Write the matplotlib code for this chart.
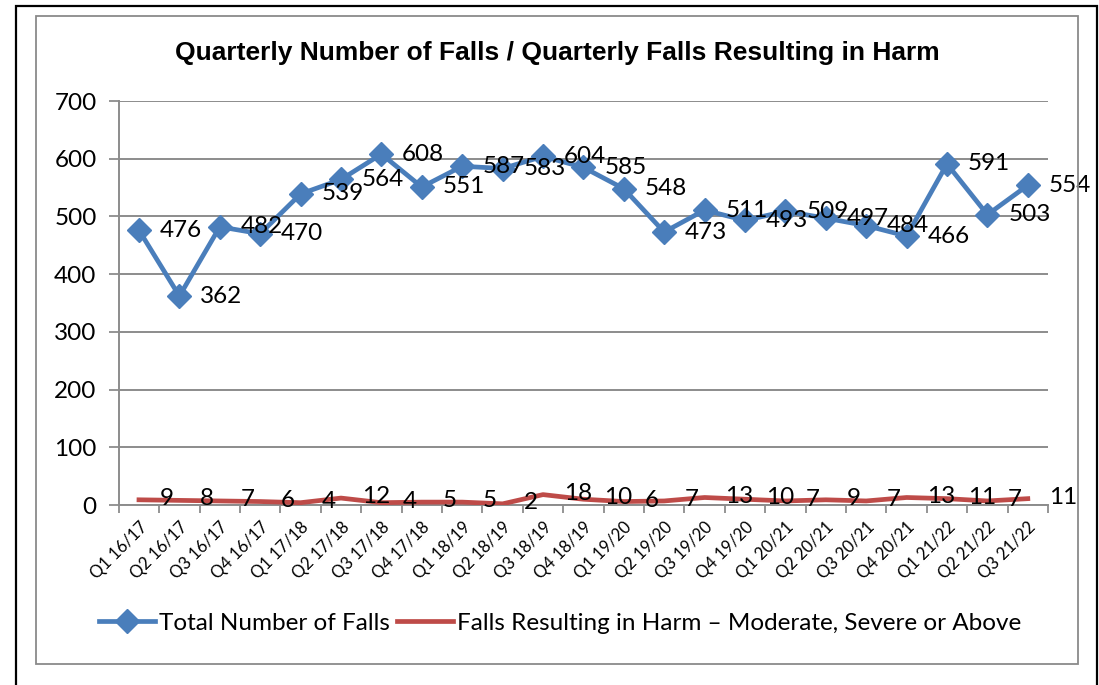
import matplotlib
matplotlib.use('Agg')
import matplotlib.pyplot as plt
from matplotlib.patches import Rectangle
from matplotlib.lines import Line2D

# quarters and values
quarters = ['Q1 16/17', 'Q2 16/17', 'Q3 16/17', 'Q4 16/17',
            'Q1 17/18', 'Q2 17/18', 'Q3 17/18', 'Q4 17/18',
            'Q1 18/19', 'Q2 18/19', 'Q3 18/19', 'Q4 18/19',
            'Q1 19/20', 'Q2 19/20', 'Q3 19/20', 'Q4 19/20',
            'Q1 20/21', 'Q2 20/21', 'Q3 20/21', 'Q4 20/21',
            'Q1 21/22', 'Q2 21/22', 'Q3 21/22']
total_falls = [476, 362, 482, 470, 539, 564, 608, 551, 587, 583, 604, 585,
               548, 473, 511, 493, 509, 497, 484, 466, 591, 503, 554]
harm_falls = [9, 8, 7, 6, 4, 12, 4, 5, 5, 2, 18, 10,
              6, 7, 13, 10, 7, 9, 7, 13, 11, 7, 11]

blue = '#4a7ebb'
red = '#be4b48'
grid = '#8c8c8c'
font = ['Lato', 'DejaVu Sans']

W, H = 1099, 685
fig = plt.figure(figsize=(W / 100, H / 100), dpi=100)

# outer black border and grey chart frame
fig.patches.append(Rectangle((16 / W, -0.05), (1097 - 16) / W, (H - 6) / H + 0.05,
                             transform=fig.transFigure, fill=False,
                             edgecolor='black', linewidth=1.6))
fig.patches.append(Rectangle((36 / W, 1 - 664 / H), (1078 - 36) / W, (664 - 16) / H,
                             transform=fig.transFigure, fill=False,
                             edgecolor='#8a8a8a', linewidth=1.3))

ax = fig.add_axes([118.8 / W, 1 - 505 / H, (1048 - 118.8) / W, (505 - 101) / H])

x = list(range(len(quarters)))
ax.plot(x, total_falls, color=blue, linewidth=3.4, marker='D', markersize=12.5,
        label='Total Number of Falls', zorder=3)
ax.plot(x, harm_falls, color=red, linewidth=3.4, label='Falls Resulting in Harm \u2013 Moderate, Severe or Above',
        zorder=3)

for xi, v in zip(x, total_falls):
    ax.annotate(str(v), (xi, v), xytext=(15, 0), textcoords='offset points',
                ha='left', va='center', fontsize=17.5, family=font, zorder=4)
for xi, v in zip(x, harm_falls):
    ax.annotate(str(v), (xi, v), xytext=(15, 1), textcoords='offset points',
                ha='left', va='center', fontsize=17.5, family=font, zorder=4)

ax.set_xlim(-0.5, len(quarters) - 0.5)
ax.set_ylim(0, 700)
ax.set_yticks(range(0, 701, 100))
ax.grid(axis='y', color=grid, linewidth=1.4)
ax.set_axisbelow(True)

ax.set_xticks(x)
ax.set_xticklabels(quarters, rotation=45, ha='right', rotation_mode='anchor',
                   fontsize=12, family=font)
ax.set_xticks([i - 0.5 for i in range(len(quarters) + 1)], minor=True)
ax.tick_params(axis='x', which='major', length=0, pad=10)
ax.tick_params(axis='x', which='minor', length=6, color=grid, width=1.3)
ax.tick_params(axis='y', length=7, color=grid, width=1.3, pad=9, labelsize=17.5)
for lab in ax.get_yticklabels():
    lab.set_family(font)

for s in ['top', 'right']:
    ax.spines[s].set_visible(False)
ax.spines['left'].set_color(grid)
ax.spines['bottom'].set_color(grid)
ax.spines['left'].set_linewidth(1.4)
ax.spines['bottom'].set_linewidth(1.4)

fig.text(557 / W, 1 - 53 / H, 'Quarterly Number of Falls / Quarterly Falls Resulting in Harm',
         ha='center', va='center', fontsize=19, fontweight='bold',
         family=['Liberation Sans', 'DejaVu Sans'])

handles = [Line2D([], [], color=blue, linewidth=3.4, marker='D', markersize=12.5),
           Line2D([], [], color=red, linewidth=3.4)]
fig.legend(handles, ['Total Number of Falls', 'Falls Resulting in Harm \u2013 Moderate, Severe or Above'],
           loc='center', bbox_to_anchor=(560 / W, 1 - 623 / H), ncol=2, frameon=False,
           prop={'family': font, 'size': 17.5}, handlelength=2.3, handletextpad=0.15,
           columnspacing=0.3, borderpad=0)

fig.savefig('out.png', dpi=100)
